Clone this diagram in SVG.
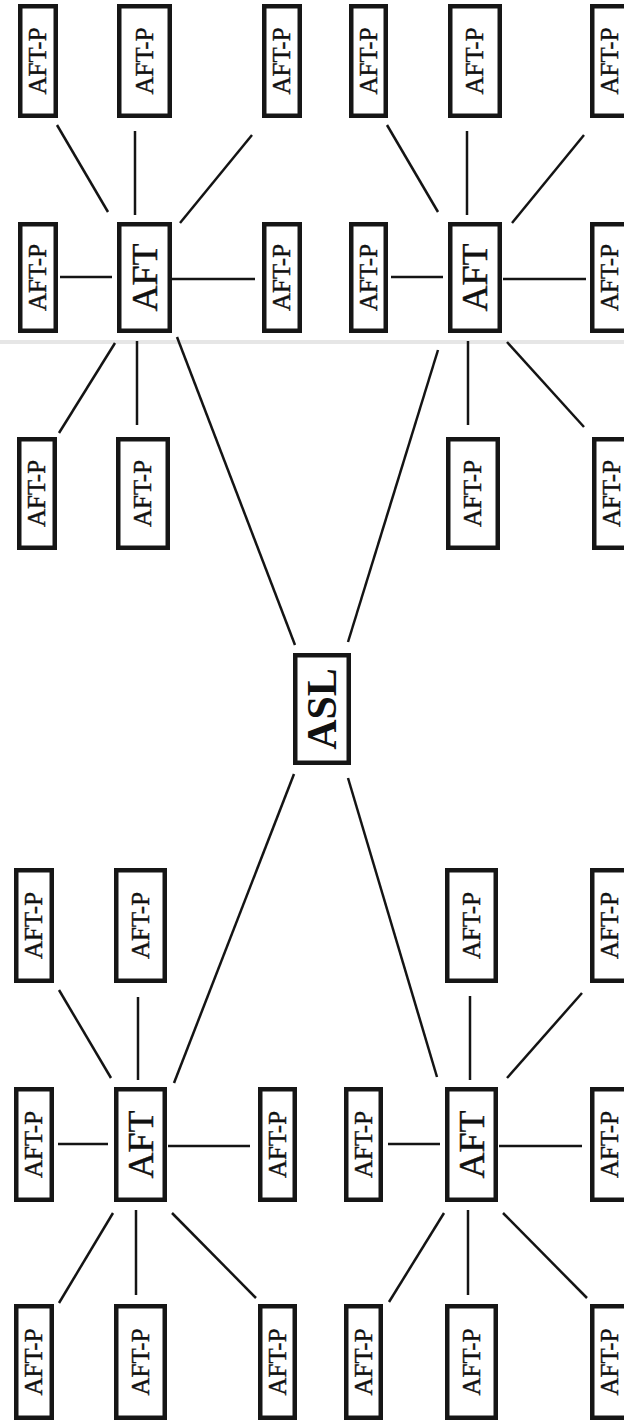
<svg xmlns="http://www.w3.org/2000/svg" width="624" height="1421" viewBox="0 0 624 1421">
<style>
.box{fill:#fff;stroke:#161616;stroke-width:4.5}
.t{font-family:"Liberation Serif","Times New Roman",serif;fill:#111;stroke:#111;stroke-width:0.4;text-anchor:middle}
.p{font-size:25px}
.a{font-size:36px}
.s{font-size:42px;font-weight:bold;stroke-width:0}
.c line{stroke:#141414;stroke-width:2.5;stroke-linecap:butt}
</style>
<rect width="624" height="1421" fill="#fff"/>
<line x1="0" y1="342" x2="624" y2="342" stroke="#e6e6e6" stroke-width="4"/>
<g id="connectors" class="c">
<line x1="57" y1="125" x2="108" y2="212"/>
<line x1="135" y1="131" x2="135" y2="215"/>
<line x1="252" y1="135" x2="180" y2="223"/>
<line x1="60" y1="277" x2="112" y2="277"/>
<line x1="172" y1="279" x2="255" y2="279"/>
<line x1="115" y1="343" x2="59" y2="433"/>
<line x1="137" y1="341" x2="137" y2="425"/>
<line x1="177" y1="337" x2="295" y2="645"/>
<line x1="387" y1="125" x2="438" y2="212"/>
<line x1="467" y1="131" x2="467" y2="215"/>
<line x1="584" y1="135" x2="512" y2="223"/>
<line x1="391" y1="277" x2="443" y2="277"/>
<line x1="503" y1="279" x2="586" y2="279"/>
<line x1="438" y1="350" x2="348" y2="642"/>
<line x1="468" y1="341" x2="468" y2="425"/>
<line x1="507" y1="342" x2="584" y2="427"/>
<line x1="294" y1="774" x2="174" y2="1083"/>
<line x1="348" y1="778" x2="437" y2="1077"/>
<line x1="59" y1="990" x2="111" y2="1078"/>
<line x1="138" y1="997" x2="138" y2="1080"/>
<line x1="58" y1="1144" x2="108" y2="1144"/>
<line x1="168" y1="1146" x2="250" y2="1146"/>
<line x1="470" y1="996" x2="470" y2="1080"/>
<line x1="582" y1="993" x2="507" y2="1078"/>
<line x1="388" y1="1144" x2="440" y2="1144"/>
<line x1="499" y1="1146" x2="582" y2="1146"/>
<line x1="113" y1="1213" x2="59" y2="1303"/>
<line x1="136" y1="1210" x2="136" y2="1295"/>
<line x1="172" y1="1213" x2="256" y2="1298"/>
<line x1="444" y1="1213" x2="389" y2="1302"/>
<line x1="468" y1="1210" x2="468" y2="1295"/>
<line x1="503" y1="1213" x2="587" y2="1298"/>
</g>
<g id="asl"><rect class="box" x="295.25" y="655.25" width="53.5" height="107.5"/><text class="t s" transform="translate(322,709) rotate(-90)" y="14">ASL</text></g>
<g id="aft1"><rect class="box" x="119.25" y="224.25" width="50.5" height="106.5"/><text class="t a" transform="translate(144.5,277.5) rotate(-90)" y="12">AFT</text></g>
<g id="aft2"><rect class="box" x="450.25" y="224.25" width="49.5" height="106.5"/><text class="t a" transform="translate(475,277.5) rotate(-90)" y="12">AFT</text></g>
<g id="aft3"><rect class="box" x="116.25" y="1089.25" width="48.5" height="110.5"/><text class="t a" transform="translate(140.5,1144.5) rotate(-90)" y="12">AFT</text></g>
<g id="aft4"><rect class="box" x="447.25" y="1089.25" width="48.5" height="110.5"/><text class="t a" transform="translate(471.5,1144.5) rotate(-90)" y="12">AFT</text></g>
<g id="p1"><rect class="box" x="20.25" y="6.25" width="35.5" height="109.5"/><text class="t p" transform="translate(38,61) rotate(-90)" y="8.3">AFT-P</text></g>
<g id="p2"><rect class="box" x="119.25" y="6.25" width="50.5" height="109.5"/><text class="t p" transform="translate(144.5,61) rotate(-90)" y="8.3">AFT-P</text></g>
<g id="p3"><rect class="box" x="264.25" y="6.25" width="35.5" height="109.5"/><text class="t p" transform="translate(282,61) rotate(-90)" y="8.3">AFT-P</text></g>
<g id="p4"><rect class="box" x="20.25" y="224.25" width="35.5" height="106.5"/><text class="t p" transform="translate(38,277.5) rotate(-90)" y="8.3">AFT-P</text></g>
<g id="p5"><rect class="box" x="264.25" y="224.25" width="35.5" height="106.5"/><text class="t p" transform="translate(282,277.5) rotate(-90)" y="8.3">AFT-P</text></g>
<g id="p6"><rect class="box" x="19.25" y="439.25" width="35.5" height="108.5"/><text class="t p" transform="translate(37,493.5) rotate(-90)" y="8.3">AFT-P</text></g>
<g id="p7"><rect class="box" x="118.25" y="439.25" width="49.5" height="108.5"/><text class="t p" transform="translate(143,493.5) rotate(-90)" y="8.3">AFT-P</text></g>
<g id="p8"><rect class="box" x="351.25" y="6.25" width="34.5" height="109.5"/><text class="t p" transform="translate(368.5,61) rotate(-90)" y="8.3">AFT-P</text></g>
<g id="p9"><rect class="box" x="450.25" y="6.25" width="49.5" height="109.5"/><text class="t p" transform="translate(475,61) rotate(-90)" y="8.3">AFT-P</text></g>
<g id="p10"><rect class="box" x="592.25" y="6.25" width="35.5" height="109.5"/><text class="t p" transform="translate(610,61) rotate(-90)" y="8.3">AFT-P</text></g>
<g id="p11"><rect class="box" x="351.25" y="224.25" width="34.5" height="106.5"/><text class="t p" transform="translate(368.5,277.5) rotate(-90)" y="8.3">AFT-P</text></g>
<g id="p12"><rect class="box" x="592.25" y="224.25" width="35.5" height="106.5"/><text class="t p" transform="translate(610,277.5) rotate(-90)" y="8.3">AFT-P</text></g>
<g id="p13"><rect class="box" x="448.25" y="439.25" width="49.5" height="108.5"/><text class="t p" transform="translate(473,493.5) rotate(-90)" y="8.3">AFT-P</text></g>
<g id="p14"><rect class="box" x="594.25" y="439.25" width="35.5" height="108.5"/><text class="t p" transform="translate(612,493.5) rotate(-90)" y="8.3">AFT-P</text></g>
<g id="p15"><rect class="box" x="16.25" y="870.25" width="35.5" height="110.5"/><text class="t p" transform="translate(34,925.5) rotate(-90)" y="8.3">AFT-P</text></g>
<g id="p16"><rect class="box" x="116.25" y="870.25" width="48.5" height="110.5"/><text class="t p" transform="translate(140.5,925.5) rotate(-90)" y="8.3">AFT-P</text></g>
<g id="p17"><rect class="box" x="16.25" y="1089.25" width="35.5" height="110.5"/><text class="t p" transform="translate(34,1144.5) rotate(-90)" y="8.3">AFT-P</text></g>
<g id="p18"><rect class="box" x="260.25" y="1089.25" width="34.5" height="110.5"/><text class="t p" transform="translate(277.5,1144.5) rotate(-90)" y="8.3">AFT-P</text></g>
<g id="p19"><rect class="box" x="16.25" y="1306.25" width="35.5" height="111.5"/><text class="t p" transform="translate(34,1362) rotate(-90)" y="8.3">AFT-P</text></g>
<g id="p20"><rect class="box" x="116.25" y="1306.25" width="48.5" height="111.5"/><text class="t p" transform="translate(140.5,1362) rotate(-90)" y="8.3">AFT-P</text></g>
<g id="p21"><rect class="box" x="260.25" y="1306.25" width="34.5" height="111.5"/><text class="t p" transform="translate(277.5,1362) rotate(-90)" y="8.3">AFT-P</text></g>
<g id="p22"><rect class="box" x="447.25" y="870.25" width="48.5" height="110.5"/><text class="t p" transform="translate(471.5,925.5) rotate(-90)" y="8.3">AFT-P</text></g>
<g id="p23"><rect class="box" x="592.25" y="870.25" width="35.5" height="110.5"/><text class="t p" transform="translate(610,925.5) rotate(-90)" y="8.3">AFT-P</text></g>
<g id="p24"><rect class="box" x="346.25" y="1089.25" width="34.5" height="110.5"/><text class="t p" transform="translate(363.5,1144.5) rotate(-90)" y="8.3">AFT-P</text></g>
<g id="p25"><rect class="box" x="592.25" y="1089.25" width="35.5" height="110.5"/><text class="t p" transform="translate(610,1144.5) rotate(-90)" y="8.3">AFT-P</text></g>
<g id="p26"><rect class="box" x="346.25" y="1306.25" width="34.5" height="111.5"/><text class="t p" transform="translate(363.5,1362) rotate(-90)" y="8.3">AFT-P</text></g>
<g id="p27"><rect class="box" x="447.25" y="1306.25" width="48.5" height="111.5"/><text class="t p" transform="translate(471.5,1362) rotate(-90)" y="8.3">AFT-P</text></g>
<g id="p28"><rect class="box" x="592.25" y="1306.25" width="35.5" height="111.5"/><text class="t p" transform="translate(610,1362) rotate(-90)" y="8.3">AFT-P</text></g>
</svg>
